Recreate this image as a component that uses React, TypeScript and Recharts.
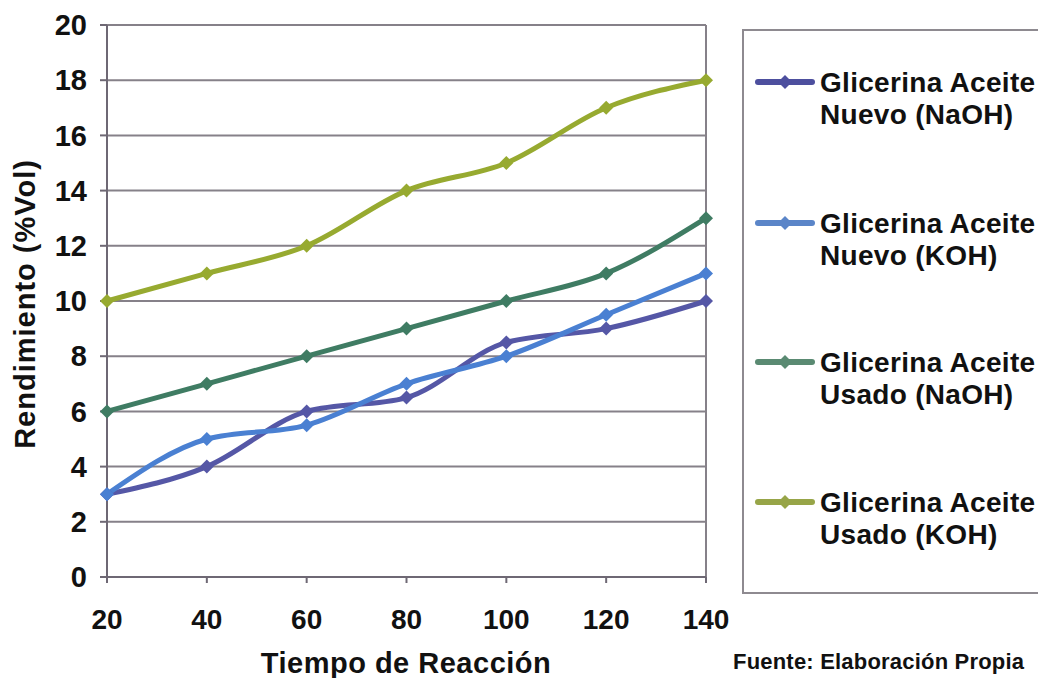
import React from 'react';
import { LineChart, Line, XAxis, YAxis, CartesianGrid, ReferenceLine, Label } from 'recharts';

const tiempos = [20, 40, 60, 80, 100, 120, 140];
const nuevoNaOH = [3, 4, 6, 6.5, 8.5, 9, 10];
const nuevoKOH = [3, 5, 5.5, 7, 8, 9.5, 11];
const usadoNaOH = [6, 7, 8, 9, 10, 11, 13];
const usadoKOH = [10, 11, 12, 14, 15, 17, 18];
const yTicks = [0, 2, 4, 6, 8, 10, 12, 14, 16, 18, 20];

const SERIES = [
  { key: 'nuevoNaOH', l1: 'Glicerina Aceite', l2: 'Nuevo (NaOH)', color: '#5557a6', legend: '#4d4f9e' },
  { key: 'nuevoKOH', l1: 'Glicerina Aceite', l2: 'Nuevo (KOH)', color: '#4a80d2', legend: '#5b85c8' },
  { key: 'usadoNaOH', l1: 'Glicerina Aceite', l2: 'Usado (NaOH)', color: '#3f7c63', legend: '#5a8a72' },
  { key: 'usadoKOH', l1: 'Glicerina Aceite', l2: 'Usado (KOH)', color: '#97aa30', legend: '#97a548' },
];

const data = tiempos.map((t, i) => ({
  t,
  nuevoNaOH: nuevoNaOH[i],
  nuevoKOH: nuevoKOH[i],
  usadoNaOH: usadoNaOH[i],
  usadoKOH: usadoKOH[i],
}));

const FONT = '"Liberation Sans", Arial, sans-serif';

const diamond = (color: string) => (props: any) => {
  const { cx, cy, index } = props;
  if (cx == null || cy == null) return <g key={index} />;
  const r = 7;
  return (
    <polygon
      key={index}
      points={`${cx},${cy - r} ${cx + r},${cy} ${cx},${cy + r} ${cx - r},${cy}`}
      fill={color}
    />
  );
};

// y of each legend marker line
const legendMarks = [82, 223, 362, 502];

export default function App() {
  return (
    <div style={{ position: 'fixed', left: 0, top: 0, width: 1038, height: 678, overflow: 'hidden', background: '#fff', fontFamily: FONT }}>
      <LineChart width={1038} height={678} data={data} margin={{ top: 25, right: 332, bottom: 0, left: 0 }}>
        <CartesianGrid vertical={false} stroke="#868189" strokeWidth={2} />
        <ReferenceLine x={140} stroke="#868189" strokeWidth={2} />
        <XAxis
          dataKey="t"
          type="number"
          domain={[20, 140]}
          ticks={tiempos}
          height={101}
          stroke="#6e6874"
          strokeWidth={2}
          tickSize={6}
          tickMargin={26}
          tick={{ fill: '#111', fontSize: 28, fontWeight: 700, fontFamily: FONT }}
        >
          <Label
            content={() => (
              <text x={406} y={673} textAnchor="middle" fill="#111" fontSize={29} fontWeight={700} fontFamily={FONT} letterSpacing={0.5}>
                Tiempo de Reacción
              </text>
            )}
          />
        </XAxis>
        <YAxis
          domain={[0, 20]}
          ticks={yTicks}
          width={107}
          stroke="#6e6874"
          strokeWidth={2}
          tickSize={7}
          tickMargin={13}
          tick={{ fill: '#111', fontSize: 29, fontWeight: 700, fontFamily: FONT }}
        >
          <Label
            content={() => (
              <text transform="translate(35, 304) rotate(-90)" textAnchor="middle" fill="#111" fontSize={29} fontWeight={700} fontFamily={FONT} letterSpacing={1}>
                Rendimiento (%Vol)
              </text>
            )}
          />
        </YAxis>
        {SERIES.map((s) => (
          <Line
            key={s.key}
            type="monotone"
            dataKey={s.key}
            stroke={s.color}
            strokeWidth={5}
            dot={diamond(s.color)}
            activeDot={false}
            isAnimationActive={false}
          />
        ))}
      </LineChart>
      <div style={{ position: 'absolute', left: 742, top: 29, width: 360, height: 561, border: '2px solid #8e8a90' }} />
      {SERIES.map((s, i) => (
        <div key={s.key} style={{ position: 'absolute', left: 0, top: 0 }}>
          <svg width={62} height={20} style={{ position: 'absolute', left: 754, top: legendMarks[i] - 10 }}>
            <line x1={4} y1={10} x2={58} y2={10} stroke={s.legend} strokeWidth={6} strokeLinecap="round" />
            <polygon points="31,3 38,10 31,17 24,10" fill={s.legend} />
          </svg>
          <div style={{ position: 'absolute', left: 820, top: legendMarks[i] - 15, fontSize: 28, fontWeight: 700, lineHeight: '32px', color: '#111', whiteSpace: 'nowrap', letterSpacing: 0.3 }}>
            {s.l1}
            <br />
            {s.l2}
          </div>
        </div>
      ))}
      <div style={{ position: 'absolute', left: 733, top: 651, fontSize: 22, lineHeight: '22px', fontWeight: 700, color: '#111', whiteSpace: 'nowrap', letterSpacing: 0.2 }}>
        Fuente: Elaboración Propia
      </div>
    </div>
  );
}
